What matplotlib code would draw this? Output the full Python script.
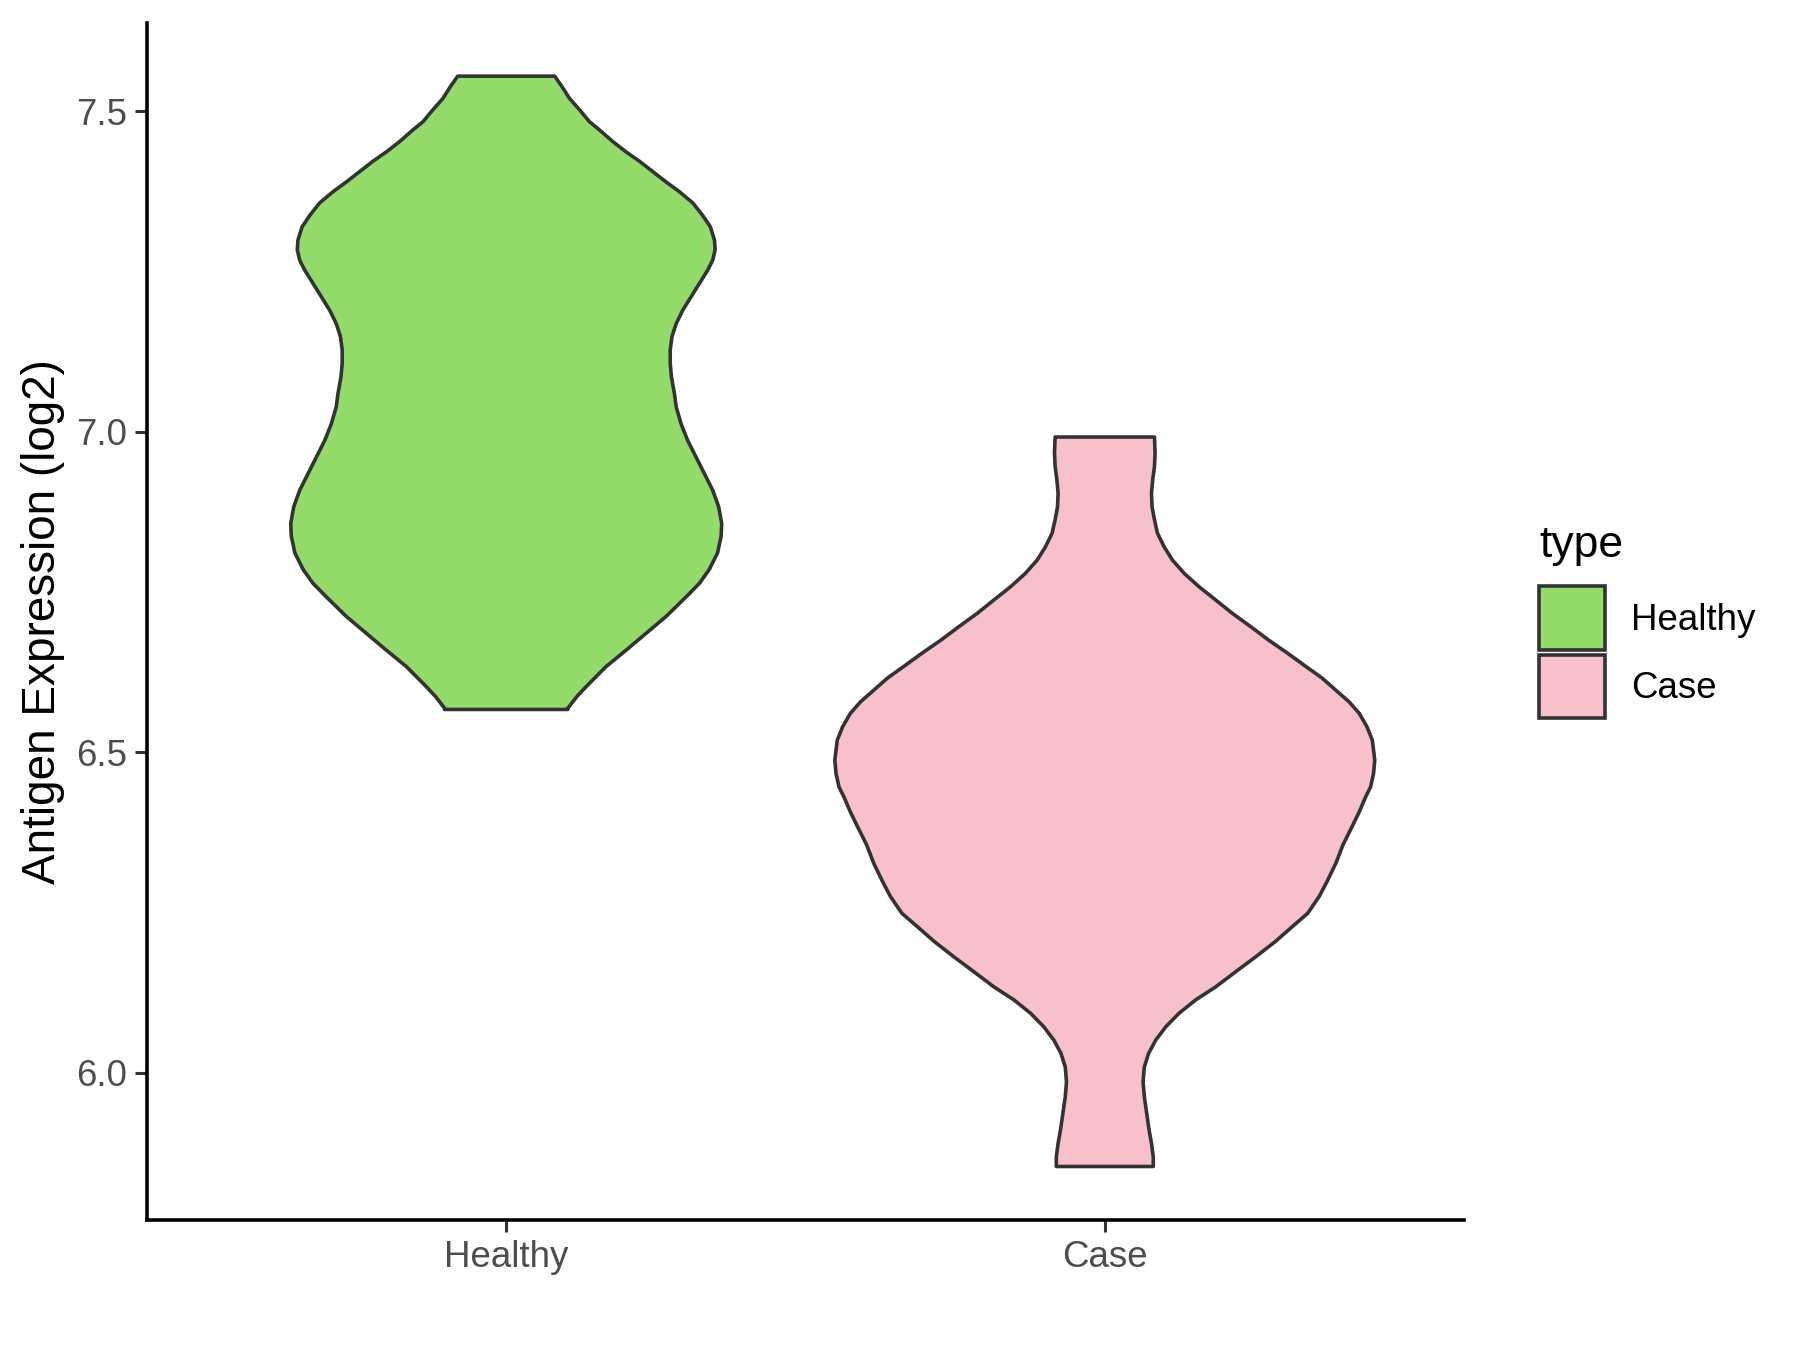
import matplotlib
matplotlib.use("Agg")
import matplotlib.pyplot as plt
from matplotlib.patches import Patch

plt.rcParams["font.family"] = ["Liberation Sans", "DejaVu Sans"]

categories = ["Healthy", "Case"]
fill_colors = ["#93DC6A", "#F7C0CB"]

# violin outlines: y level and half-width (x units)
healthy_y = [7.555, 7.539, 7.520, 7.502, 7.484, 7.471, 7.453, 7.437, 7.422,
             7.406, 7.390, 7.375, 7.357, 7.338, 7.320, 7.299, 7.284, 7.268,
             7.253, 7.232, 7.211, 7.190, 7.169, 7.149, 7.128, 7.107, 7.086,
             7.060, 7.039, 7.013, 6.987, 6.961, 6.935, 6.909, 6.883, 6.857,
             6.837, 6.811, 6.785, 6.764, 6.743, 6.712, 6.686, 6.660, 6.634,
             6.603, 6.587, 6.569, 6.567]
healthy_hw = [0.081, 0.093, 0.106, 0.123, 0.139, 0.156, 0.178, 0.200, 0.223,
              0.245, 0.267, 0.289, 0.312, 0.328, 0.341, 0.348, 0.349, 0.345,
              0.337, 0.323, 0.309, 0.295, 0.284, 0.277, 0.274, 0.274, 0.276,
              0.281, 0.284, 0.292, 0.303, 0.317, 0.331, 0.345, 0.355, 0.360,
              0.359, 0.353, 0.339, 0.323, 0.301, 0.267, 0.234, 0.201, 0.167,
              0.134, 0.118, 0.103, 0.103]

case_y = [6.992, 6.967, 6.946, 6.925, 6.904, 6.883, 6.863, 6.842, 6.821,
          6.800, 6.779, 6.758, 6.738, 6.717, 6.696, 6.675, 6.655, 6.634,
          6.616, 6.597, 6.579, 6.561, 6.540, 6.519, 6.488, 6.467, 6.446,
          6.431, 6.407, 6.384, 6.356, 6.327, 6.298, 6.275, 6.249, 6.228,
          6.205, 6.181, 6.158, 6.134, 6.114, 6.093, 6.072, 6.051, 6.030,
          6.009, 5.986, 5.963, 5.937, 5.911, 5.890, 5.869, 5.854]
case_hw = [0.083, 0.084, 0.083, 0.080, 0.078, 0.079, 0.083, 0.088, 0.099,
           0.113, 0.133, 0.158, 0.185, 0.213, 0.244, 0.274, 0.305, 0.336,
           0.363, 0.386, 0.408, 0.425, 0.438, 0.447, 0.451, 0.449, 0.444,
           0.436, 0.425, 0.413, 0.398, 0.386, 0.371, 0.358, 0.339, 0.313,
           0.285, 0.252, 0.219, 0.185, 0.152, 0.124, 0.102, 0.085, 0.073,
           0.066, 0.064, 0.066, 0.070, 0.074, 0.078, 0.081, 0.081]

y_ticks = [6.0, 6.5, 7.0, 7.5]

fig = plt.figure(figsize=(9, 6.75), dpi=200)
ax = fig.add_axes([0.0817, 0.0963, 0.7316, 0.8867])

for i, (ys, hws) in enumerate([(healthy_y, healthy_hw), (case_y, case_hw)]):
    pos = i + 1
    xs = [pos + w for w in hws] + [pos - w for w in reversed(hws)]
    yy = list(ys) + list(reversed(ys))
    ax.fill(xs, yy, facecolor=fill_colors[i], edgecolor="#333333",
            linewidth=1.3, joinstyle="round", zorder=2)

ax.set_xlim(0.4, 2.6)
ax.set_ylim(5.7705, 7.638)
ax.set_xticks([1, 2])
ax.set_xticklabels(categories)
ax.set_yticks(y_ticks)
ax.set_yticklabels([f"{t:.1f}" for t in y_ticks])
ax.set_ylabel("Antigen Expression (log2)", fontsize=16.5, color="black",
              labelpad=4)

for side in ["top", "right"]:
    ax.spines[side].set_visible(False)
for side in ["left", "bottom"]:
    ax.spines[side].set_linewidth(1.3)
    ax.spines[side].set_color("black")
ax.tick_params(axis="both", length=4.3, width=1.1, color="#333333",
               labelsize=13.2, labelcolor="#4D4D4D")
ax.tick_params(axis="y", pad=3)
ax.tick_params(axis="x", pad=3)

handles = [Patch(facecolor=c, edgecolor="#333333", linewidth=1.3, label=l)
           for c, l in zip(fill_colors, categories)]
leg = fig.legend(handles=handles, title="type", loc="upper left",
                 bbox_to_anchor=(0.845, 0.625), frameon=False,
                 fontsize=13.2, title_fontsize=16, handlelength=1.8,
                 handleheight=2.3, labelspacing=0.12, handletextpad=0.7,
                 borderpad=0, alignment="left")
# more room between the legend title and the keys
leg._legend_box.sep = 7.5

fig.savefig("out.png", dpi=200)
